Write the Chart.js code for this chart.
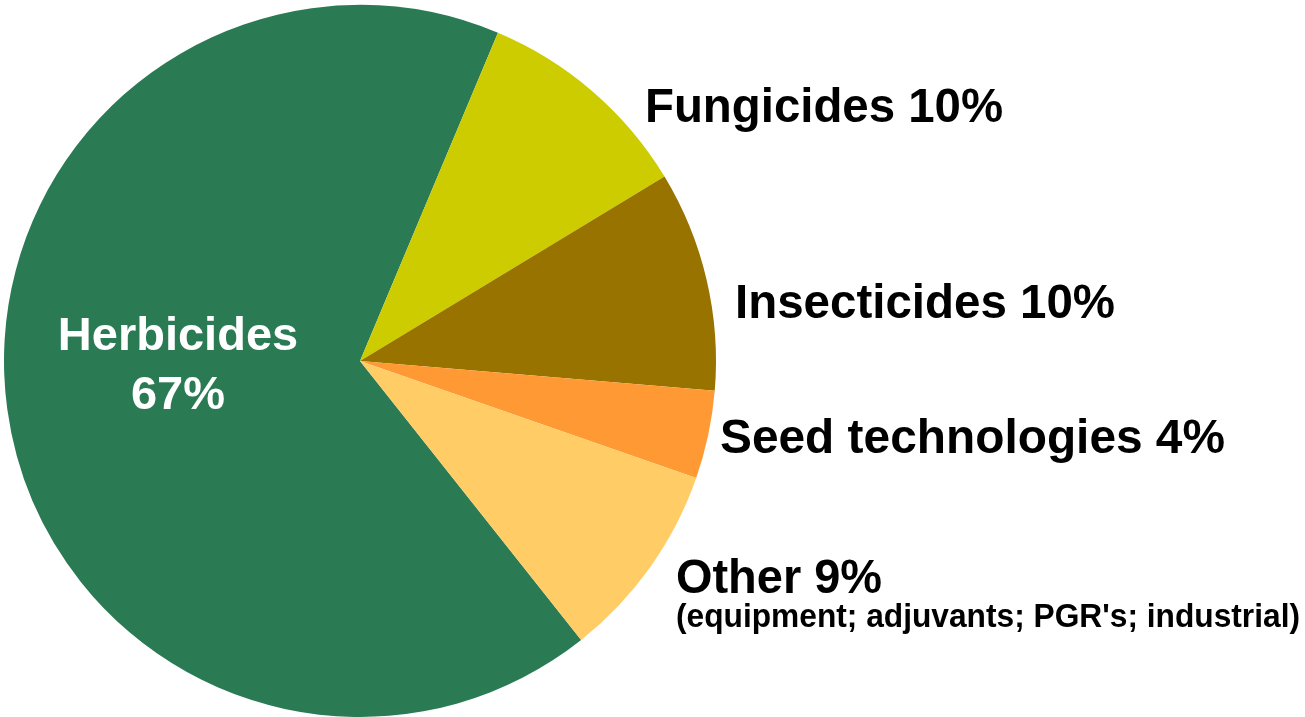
<!DOCTYPE html>
<html>
<head>
<meta charset="utf-8">
<title>Crop protection market share</title>
<script src="https://cdn.jsdelivr.net/npm/chart.js@4.4.1/dist/chart.umd.min.js"></script>
<style>
  html, body { margin: 0; padding: 0; background: #fff; }
  #wrap { width: 1305px; height: 717px; position: relative; }
</style>
</head>
<body>
<div id="wrap"><canvas id="pieChart" width="1305" height="717"></canvas></div>
<script>
// Data
const categories = ['Herbicides', 'Fungicides', 'Insecticides', 'Seed technologies', 'Other'];
const shares = [67, 10, 10, 4, 9];
const sliceColors = ['#2a7b54', '#cccc00', '#997300', '#ff9933', '#ffcc66'];
const otherNote = "(equipment; adjuvants; PGR's; industrial)";

const FONT = '"Liberation Sans", Arial, sans-serif';

// Draws the slice labels next to the pie (relative to the pie centre)
const sliceLabels = {
  id: 'sliceLabels',
  afterDraw(chart) {
    const ctx = chart.ctx;
    const arc = chart.getDatasetMeta(0).data[0];
    const cx = arc.x, cy = arc.y;
    ctx.save();
    ctx.textBaseline = 'alphabetic';

    // Herbicides, inside the slice
    ctx.fillStyle = '#ffffff';
    ctx.textAlign = 'center';
    ctx.font = 'bold 47px ' + FONT;
    ctx.fillText(categories[0], cx - 182, cy - 11);
    ctx.fillText(shares[0] + '%', cx - 182, cy + 48);

    // the others, outside on the right
    ctx.fillStyle = '#000000';
    ctx.textAlign = 'left';
    const spots = [null, [285, -239, 358], [375, -43, 380], [360, 92, 505], [316, 232, 206]];
    for (let i = 1; i < categories.length; i++) {
      const [dx, dy, w] = spots[i];
      ctx.font = 'bold 48px ' + FONT;
      const txt = (i === 4 ? 'Other' : categories[i]) + ' ' + shares[i] + '%';
      ctx.fillText(txt, cx + dx, cy + dy, w);
    }
    ctx.font = 'bold 33px ' + FONT;
    ctx.fillText(otherNote, cx + 316, cy + 266, 624);
    ctx.restore();
  }
};

new Chart(document.getElementById('pieChart'), {
  type: 'pie',
  data: {
    labels: categories,
    datasets: [{
      data: shares,
      backgroundColor: sliceColors,
      borderWidth: 0
    }]
  },
  options: {
    responsive: false,
    animation: false,
    rotation: 141.6,
    layout: { padding: { left: 4, top: 5, right: 589, bottom: 0 } },
    plugins: {
      legend: { display: false },
      tooltip: { enabled: false }
    }
  },
  plugins: [sliceLabels]
});
</script>
</body>
</html>
